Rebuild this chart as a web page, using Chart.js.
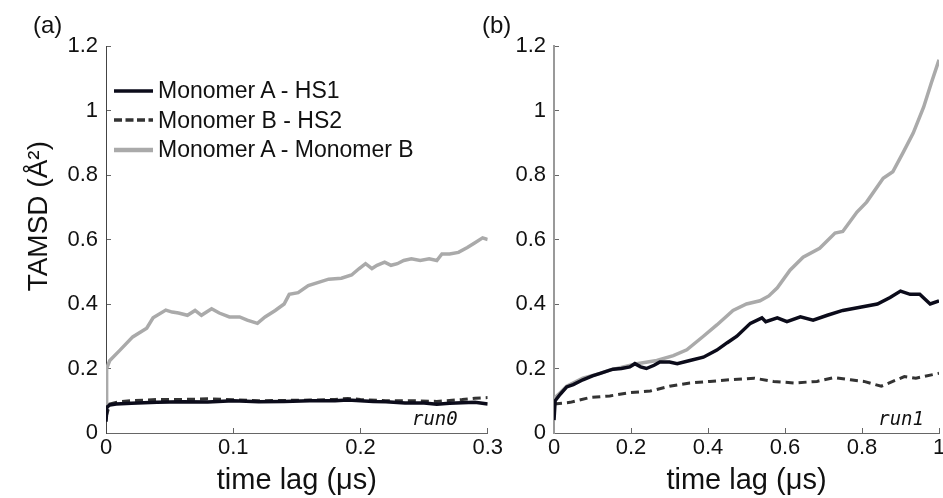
<!DOCTYPE html>
<html>
<head>
<meta charset="utf-8">
<script src="https://cdn.jsdelivr.net/npm/chart.js@4.4.1/dist/chart.umd.min.js"></script>
<style>
  body { margin: 0; background: #fff; }
  #fig { position: relative; width: 943px; height: 498px; overflow: hidden; background: #fff; }
  #fig canvas { position: absolute; top: 0; }
  #legend { position: absolute; left: 114px; top: 76px; font: 23px "Liberation Sans", Arial, sans-serif; color: #111; }
  #legend .item { display: flex; align-items: center; height: 29.5px; white-space: nowrap; }
  #legend svg { margin-right: 5px; }
</style>
</head>
<body>
<div id="fig">
  <canvas id="run0" width="510" height="498" style="left:0px"></canvas>
  <canvas id="run1" width="475" height="498" style="left:480px"></canvas>
  <div id="legend"></div>
</div>
<script>
// series names, same order in both panels
var seriesNames = ['Monomer A - HS1', 'Monomer B - HS2', 'Monomer A - Monomer B'];

// run0 (left panel), time lag in µs, TAMSD in Å²
var run0HS1_t = [0, 0.0008, 0.003, 0.008, 0.02, 0.04, 0.06, 0.08, 0.1, 0.12, 0.14, 0.16, 0.18, 0.19, 0.2, 0.21, 0.22, 0.235, 0.25, 0.26, 0.27, 0.28, 0.29, 0.3];
var run0HS1 = [0.035, 0.08, 0.087, 0.09, 0.092, 0.095, 0.097, 0.096, 0.1, 0.097, 0.098, 0.1, 0.1, 0.102, 0.1, 0.098, 0.097, 0.093, 0.093, 0.089, 0.092, 0.094, 0.095, 0.09];

var run0HS2_t = [0, 0.003, 0.01, 0.02, 0.04, 0.06, 0.08, 0.1, 0.12, 0.14, 0.16, 0.18, 0.19, 0.2, 0.22, 0.24, 0.26, 0.28, 0.29, 0.3];
var run0HS2 = [0.05, 0.09, 0.097, 0.1, 0.104, 0.104, 0.106, 0.103, 0.1, 0.101, 0.102, 0.104, 0.107, 0.104, 0.1, 0.1, 0.098, 0.104, 0.108, 0.11];

var run0AB_t = [0, 0.0005, 0.003, 0.011, 0.021, 0.032, 0.037, 0.047, 0.052, 0.057, 0.064, 0.07, 0.075, 0.083, 0.089, 0.097, 0.105, 0.111, 0.119, 0.125, 0.133, 0.14, 0.144, 0.151, 0.159, 0.167, 0.175, 0.185, 0.193, 0.199, 0.204, 0.209, 0.213, 0.219, 0.224, 0.229, 0.234, 0.24, 0.247, 0.254, 0.26, 0.264, 0.27, 0.277, 0.284, 0.29, 0.296, 0.3];
var run0AB = [0.09, 0.2, 0.225, 0.257, 0.298, 0.325, 0.357, 0.381, 0.375, 0.372, 0.365, 0.38, 0.365, 0.385, 0.372, 0.36, 0.36, 0.35, 0.34, 0.36, 0.38, 0.4, 0.43, 0.435, 0.457, 0.467, 0.477, 0.48, 0.49, 0.51, 0.525, 0.51, 0.52, 0.53, 0.52, 0.525, 0.535, 0.54, 0.535, 0.54, 0.535, 0.555, 0.555, 0.56, 0.575, 0.59, 0.605, 0.6];

// run1 (right panel)
var run1HS1_t = [0, 0.003, 0.016, 0.033, 0.05, 0.075, 0.1, 0.12, 0.153, 0.175, 0.197, 0.21, 0.225, 0.24, 0.26, 0.275, 0.3, 0.32, 0.353, 0.388, 0.423, 0.45, 0.475, 0.51, 0.54, 0.55, 0.58, 0.605, 0.64, 0.673, 0.71, 0.75, 0.795, 0.84, 0.873, 0.9, 0.925, 0.95, 0.977, 1.0];
var run1HS1 = [0.04, 0.1, 0.12, 0.143, 0.15, 0.165, 0.177, 0.185, 0.198, 0.2, 0.205, 0.215, 0.205, 0.2, 0.21, 0.22, 0.22, 0.215, 0.225, 0.235, 0.257, 0.28, 0.3, 0.34, 0.357, 0.345, 0.357, 0.345, 0.36, 0.35, 0.365, 0.38, 0.39, 0.4, 0.42, 0.44, 0.43, 0.43, 0.4, 0.41];

var run1HS2_t = [0, 0.042, 0.093, 0.145, 0.197, 0.25, 0.3, 0.353, 0.405, 0.457, 0.52, 0.57, 0.623, 0.683, 0.727, 0.77, 0.805, 0.85, 0.88, 0.91, 0.94, 1.0];
var run1HS2 = [0.09, 0.095, 0.11, 0.115, 0.125, 0.13, 0.145, 0.155, 0.16, 0.165, 0.17, 0.16, 0.155, 0.16, 0.172, 0.165, 0.16, 0.145, 0.16, 0.175, 0.17, 0.185];

var run1AB_t = [0, 0.003, 0.016, 0.033, 0.075, 0.12, 0.145, 0.18, 0.215, 0.267, 0.31, 0.345, 0.388, 0.423, 0.465, 0.5, 0.535, 0.558, 0.58, 0.613, 0.647, 0.69, 0.73, 0.75, 0.787, 0.812, 0.855, 0.88, 0.907, 0.933, 0.96, 0.98, 1.0];
var run1AB = [0.1, 0.11, 0.125, 0.145, 0.17, 0.185, 0.195, 0.205, 0.215, 0.225, 0.24, 0.258, 0.3, 0.335, 0.38, 0.4, 0.41, 0.425, 0.45, 0.505, 0.545, 0.573, 0.62, 0.625, 0.685, 0.716, 0.79, 0.81, 0.87, 0.93, 1.01, 1.085, 1.157];

var yTicks = [0, 1.2, 0.2];   // min, max, step
var run0Ticks = [0, 0.3, 0.1];
var run1Ticks = [0, 1, 0.2];

var lineStyles = [
    { color: '#0b0b1a', width: 3.5, dash: [] },
    { color: '#333333', width: 3, dash: [8, 5] },
    { color: '#aaaaaa', width: 3.5, dash: [] }
];

Chart.defaults.font.family = '"Liberation Sans", Arial, sans-serif';
Chart.defaults.color = '#111';

function pts(xs, ys) {
    return xs.map(function (x, i) { return { x: x, y: ys[i] }; });
}

// 1 not 1.0, like the original
function shortNum(v) {
    return String(Number(v.toFixed(3)));
}

function makeDatasets(series) {
    return series.map(function (s, i) {
        return {
            label: seriesNames[i],
            data: pts(s[0], s[1]),
            borderColor: lineStyles[i].color,
            borderWidth: lineStyles[i].width,
            borderDash: lineStyles[i].dash,
            pointRadius: 0,
            tension: 0,
            fill: false
        };
    });
}

// panel letters and run names
var panelText = {
    id: 'panelText',
    afterDraw: function (chart, args, opts) {
        var ctx = chart.ctx;
        var area = chart.chartArea;
        ctx.save();
        ctx.fillStyle = '#111';
        ctx.font = '24px "Liberation Sans", Arial, sans-serif';
        ctx.textAlign = 'left';
        ctx.textBaseline = 'alphabetic';
        ctx.fillText(opts.tag, opts.tagX, 33);
        ctx.font = 'italic 19px "DejaVu Sans Mono", monospace';
        ctx.textAlign = 'right';
        ctx.fillText(opts.run, area.right - opts.runInset, area.bottom - 8);
        ctx.restore();
    }
};

function makeChart(id, series, xt, opt) {
    var config = {
        type: 'line',
        data: { datasets: makeDatasets(series) },
        plugins: [panelText],
        options: {
            responsive: false,
            animation: false,
            devicePixelRatio: 1,
            layout: { padding: { top: 46, left: 0, right: opt.padRight, bottom: 0 } },
            plugins: {
                legend: { display: false },
                tooltip: { enabled: false },
                panelText: { tag: opt.tag, tagX: opt.tagX, run: opt.run, runInset: opt.runInset }
            },
            scales: {
                x: {
                    type: 'linear',
                    min: xt[0], max: xt[1],
                    ticks: { stepSize: xt[2], padding: 7, font: { size: 22 }, maxRotation: 0, callback: shortNum },
                    grid: { drawOnChartArea: false, tickLength: -5, color: '#666' },
                    border: { color: '#666', width: 1 },
                    title: { display: true, text: 'time lag (\u03bcs)', font: { size: 29 }, padding: { top: 0, bottom: 0 } },
                    afterFit: function (s) { s.height = 65; }
                },
                y: {
                    type: 'linear',
                    min: yTicks[0], max: yTicks[1],
                    ticks: { stepSize: yTicks[2], padding: 13, font: { size: 22 }, callback: shortNum },
                    grid: { drawOnChartArea: false, tickLength: -5, color: '#666' },
                    border: { color: opt.yBorder, width: opt.yBorderWidth },
                    title: { display: opt.yTitle, text: '      TAMSD (\u00c5\u00b2)', font: { size: 28 }, padding: { top: 22, bottom: 0 } },
                    afterFit: function (s) { s.width = opt.yWidth; }
                }
            }
        }
    };
    return new Chart(document.getElementById(id), config);
}

makeChart('run0', [[run0HS1_t, run0HS1], [run0HS2_t, run0HS2], [run0AB_t, run0AB]], run0Ticks,
    { padRight: 20, yWidth: 106, yTitle: true, yBorder: '#444', yBorderWidth: 1, tag: '(a)', tagX: 33, run: 'run0', runInset: 30 });
makeChart('run1', [[run1HS1_t, run1HS1], [run1HS2_t, run1HS2], [run1AB_t, run1AB]], run1Ticks,
    { padRight: 16, yWidth: 74, yTitle: false, yBorder: '#999', yBorderWidth: 2, tag: '(b)', tagX: 2, run: 'run1', runInset: 15 });

// legend of the left panel
var legend = document.getElementById('legend');
seriesNames.forEach(function (name, i) {
    var st = lineStyles[i];
    var item = document.createElement('div');
    item.className = 'item';
    item.innerHTML = '<svg width="39" height="8"><line x1="0" y1="4" x2="39" y2="4" stroke="' + st.color +
        '" stroke-width="' + (i === 2 ? 4.5 : 3.5) + '" stroke-dasharray="' + (st.dash.length ? '8,3.5' : 'none') + '"/></svg>' +
        '<span>' + name + '</span>';
    legend.appendChild(item);
});
</script>
</body>
</html>
